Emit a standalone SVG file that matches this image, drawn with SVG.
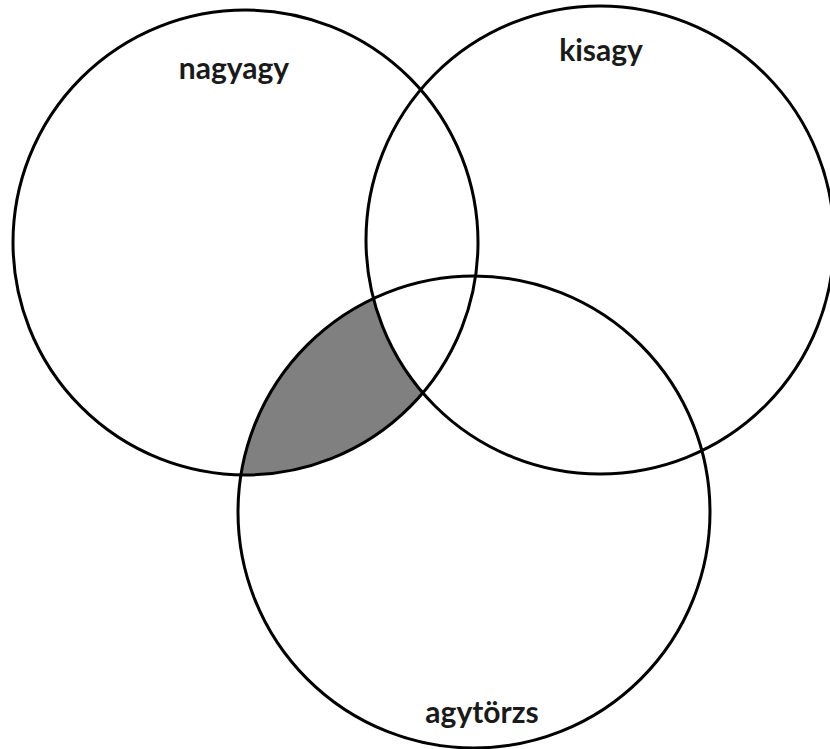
<svg xmlns="http://www.w3.org/2000/svg" width="830" height="749" viewBox="0 0 830 749">
  <style>
    .ring { fill: none; stroke: #000; stroke-width: 3; }
    .lbl { font-family: Lato, "Open Sans", "Liberation Sans", sans-serif; font-weight: bold; font-size: 30px; fill: #1a1a1a; text-anchor: middle; }
  </style>
  <defs>
    <clipPath id="clipC1">
      <circle cx="245.5" cy="242.5" r="232.5"/>
    </clipPath>
    <mask id="notC2">
      <rect x="0" y="0" width="830" height="749" fill="#fff"/>
      <circle cx="600" cy="240" r="234" fill="#000"/>
    </mask>
  </defs>
  <rect width="830" height="749" fill="#fff"/>
  <g id="shaded" mask="url(#notC2)">
    <circle cx="474" cy="512" r="236" fill="#808080" clip-path="url(#clipC1)"/>
  </g>
  <g id="nagyagy">
    <circle class="ring" cx="245.5" cy="242.5" r="232.5"/>
    <text class="lbl" x="234" y="79">nagyagy</text>
  </g>
  <g id="kisagy">
    <circle class="ring" cx="600" cy="240" r="234"/>
    <text class="lbl" x="601" y="61">kisagy</text>
  </g>
  <g id="agytorzs">
    <circle class="ring" cx="474" cy="512" r="236"/>
    <text class="lbl" x="482" y="723">agytörzs</text>
  </g>
  <g id="connectors"/>
</svg>
